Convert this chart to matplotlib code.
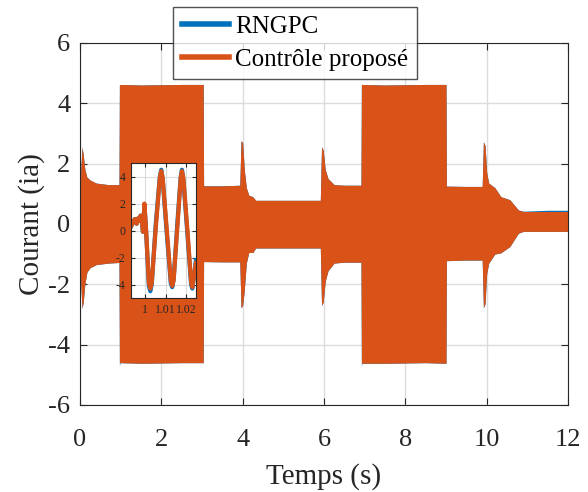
import matplotlib
matplotlib.use("Agg")
from matplotlib import pyplot as plt
from matplotlib.lines import Line2D

plt.rcParams['font.family'] = ['Liberation Serif', 'DejaVu Serif']
plt.rcParams['axes.unicode_minus'] = False

# envelope of the phase current ia (upper / lower bound of the oscillation)
t_env = [0.0, 0.02, 0.05, 0.08, 0.12, 0.17, 0.25, 0.40, 0.70, 0.96,
         0.97, 0.985, 1.5, 2.5, 3.03,
         3.04, 3.5, 3.93, 3.96, 4.0, 4.04, 4.09, 4.15, 4.25, 4.32, 5.0, 5.91,
         5.94, 5.98, 6.03, 6.1, 6.25, 6.5, 6.91,
         6.92, 6.935, 7.5, 8.5, 9.0,
         9.01, 9.5, 9.89, 9.92, 9.96, 10.0, 10.05, 10.2, 10.35, 10.57, 10.78, 10.9, 11.5, 12.0]
orange_hi = [0.5, 1.8, 2.55, 2.3, 1.8, 1.55, 1.45, 1.35, 1.3, 1.3,
             4.6, 4.62, 4.6, 4.62, 4.62,
             1.26, 1.26, 1.28, 2.75, 2.7, 1.8, 1.2, 0.95, 0.9, 0.78, 0.78, 0.78,
             2.55, 2.45, 1.8, 1.5, 1.3, 1.28, 1.28,
             4.62, 4.62, 4.6, 4.62, 4.62,
             1.25, 1.24, 1.24, 2.72, 2.6, 1.7, 1.35, 1.2, 0.9, 0.8, 0.46, 0.41, 0.41, 0.41]
orange_lo = [-0.6, -2.0, -2.8, -2.6, -2.0, -1.6, -1.45, -1.35, -1.3, -1.28,
             -4.6, -4.6, -4.62, -4.6, -4.6,
             -1.25, -1.26, -1.26, -2.78, -2.7, -2.2, -1.3, -0.95, -0.95, -0.8, -0.8, -0.8,
             -2.7, -2.6, -1.9, -1.55, -1.3, -1.27, -1.27,
             -4.6, -4.62, -4.62, -4.6, -4.62,
             -1.22, -1.2, -1.2, -2.78, -2.65, -1.65, -1.3, -1.0, -0.96, -0.75, -0.31, -0.25, -0.25, -0.25]
blue_hi = [0.5, 1.8, 2.55, 2.3, 1.8, 1.55, 1.45, 1.35, 1.3, 1.3,
           4.6, 4.62, 4.6, 4.62, 4.62,
           1.26, 1.26, 1.28, 2.75, 2.7, 1.8, 1.2, 0.95, 0.9, 0.78, 0.78, 0.78,
           2.55, 2.45, 1.8, 1.5, 1.3, 1.28, 1.28,
           4.62, 4.62, 4.6, 4.62, 4.62,
           1.25, 1.24, 1.24, 2.72, 2.6, 1.7, 1.35, 1.2, 0.9, 0.8, 0.46, 0.42, 0.45, 0.45]
blue_lo = [-0.6, -2.0, -2.8, -2.6, -2.0, -1.6, -1.45, -1.35, -1.3, -1.28,
           -4.72, -4.6, -4.62, -4.6, -4.6,
           -1.25, -1.26, -1.26, -2.78, -2.7, -2.2, -1.3, -0.95, -0.95, -0.8, -0.8, -0.8,
           -2.7, -2.6, -1.9, -1.55, -1.3, -1.27, -1.27,
           -4.72, -4.62, -4.62, -4.6, -4.62,
           -1.22, -1.2, -1.2, -2.78, -2.65, -1.65, -1.3, -1.0, -0.96, -0.75, -0.31, -0.25, -0.25, -0.25]

# zoom around the first load step (t = 1 s)
t_zoom = [0.9930, 0.9940, 0.9949, 0.9958, 0.9965, 0.9972, 0.9977, 0.9984, 0.9989, 0.9996, 1.0003,
          1.0018, 1.0025, 1.0032, 1.0052, 1.0072, 1.0079, 1.0086,
          1.0106, 1.0126, 1.0133, 1.0140, 1.0158, 1.0175, 1.0181, 1.0188,
          1.0208, 1.0226, 1.0232, 1.0250]
orange_zoom = [0.3, 0.6, 0.85, 0.5, 0.9, 0.7, 1.1, 0.6, -0.1, 2.0, 0.4,
               -3.9, -4.3, -3.9, 0.2, 3.9, 4.4, 3.9,
               0.1, -3.7, -4.1, -3.7, 0.2, 3.9, 4.4, 3.9,
               0.0, -3.8, -4.2, -2.4]
blue_zoom = [0.3, 0.6, 0.85, 0.5, 0.9, 0.7, 1.1, 0.6, -0.1, 1.9, 0.3,
             -4.1, -4.5, -4.0, 0.5, 4.0, 4.5, 3.8,
             -0.2, -3.9, -4.2, -3.6, 0.5, 4.0, 4.5, 3.7,
             -0.3, -4.0, -4.3, -2.2]

blue = '#0072BD'
orange = '#D95319'

fig = plt.figure(figsize=(5.88, 4.92), dpi=100)
ax = fig.add_axes([0.136, 0.177, 0.830, 0.736])

ax.fill_between(t_env, blue_lo, blue_hi, color=blue, lw=0)
ax.fill_between(t_env, orange_lo, orange_hi, color=orange, lw=0)

ax.set_xlim(0, 12)
ax.set_ylim(-6, 6)
ax.set_xticks(range(0, 13, 2))
ax.set_yticks(range(-6, 7, 2))
ax.grid(True, color='#dcdcdc', lw=1)
ax.set_axisbelow(True)
ax.tick_params(direction='in', top=True, right=True, length=5,
               labelsize=19, colors='#262626')
ax.tick_params(axis='x', pad=17)
ax.tick_params(axis='y', pad=7)
for s in ax.spines.values():
    s.set_color('#262626')
ax.set_xlabel('Temps (s)', fontsize=21, color='#262626', labelpad=9)
ax.set_ylabel('Courant (ia)', fontsize=21, color='#262626', labelpad=2)

handles = [Line2D([], [], color=blue, lw=4), Line2D([], [], color=orange, lw=4)]
leg = fig.legend(handles, ['RNGPC', 'Contrôle proposé'], loc='upper left',
                 bbox_to_anchor=(0.294, 0.986), fontsize=18, frameon=True,
                 fancybox=False, handlelength=1.9, handletextpad=0.25,
                 borderpad=0.35, labelspacing=0.4, borderaxespad=0)
leg.get_frame().set_edgecolor('#262626')
leg.get_frame().set_linewidth(1)

ins = fig.add_axes([0.2228, 0.3943, 0.1105, 0.2744])
ins.plot(t_zoom, blue_zoom, color=blue, lw=3)
ins.plot(t_zoom, orange_zoom, color=orange, lw=3)
ins.set_xlim(0.993, 1.025)
ins.set_ylim(-5, 5)
ins.set_xticks([1, 1.01, 1.02])
ins.set_xticklabels(['1', '1.01', '1.02'])
ins.set_yticks([-4, -2, 0, 2, 4])
ins.grid(True, color='#dcdcdc', lw=0.8)
ins.set_axisbelow(True)
ins.tick_params(direction='in', top=True, right=True, length=3,
                labelsize=8.5, colors='#262626', pad=4)
for s in ins.spines.values():
    s.set_color('#262626')

fig.savefig('out.png', dpi=100)
